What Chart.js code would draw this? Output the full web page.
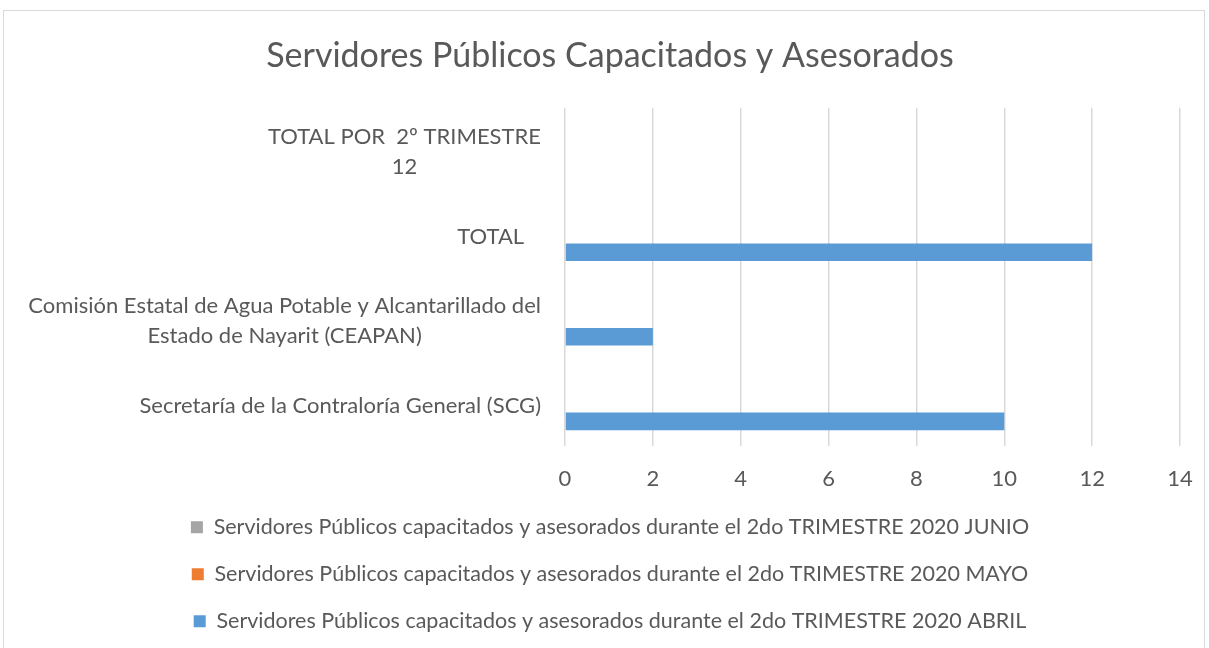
<!DOCTYPE html>
<html>
<head>
<meta charset="utf-8">
<script src="https://cdn.jsdelivr.net/npm/chart.js@4"></script>
<style>
  html, body { margin: 0; padding: 0; background: #fff; }
  #wrap { position: relative; width: 1209px; height: 648px; overflow: hidden; }
  #frame { position: absolute; left: 3px; top: 10px; width: 1202px; height: 700px; border: 1px solid #d9d9d9; box-sizing: border-box; }
  canvas { position: absolute; left: 0; top: 0; }
</style>
</head>
<body>
<div id="wrap">
  <div id="frame"></div>
  <canvas id="chart" width="1209" height="648"></canvas>
</div>
<script>
// categories, top to bottom
const categories = [
  ["TOTAL POR  2º TRIMESTRE", "12"],
  ["TOTAL   "],
  ["Comisión Estatal de Agua Potable y Alcantarillado del", "Estado de Nayarit (CEAPAN)"],
  ["Secretaría de la Contraloría General (SCG)"]
];
const seriesNames = [
  "Servidores Públicos capacitados y asesorados durante el 2do TRIMESTRE 2020 JUNIO",
  "Servidores Públicos capacitados y asesorados durante el 2do TRIMESTRE 2020 MAYO",
  "Servidores Públicos capacitados y asesorados durante el 2do TRIMESTRE 2020 ABRIL"
];
const junio = [null, null, null, null];
const mayo = [null, null, null, null];
const abril = [null, 12, 2, 10];
const xTicks = [0, 2, 4, 6, 8, 10, 12, 14];

const FONT = "Lato, 'Open Sans', sans-serif";
const TEXT = "#595959";

// y labels: lines centered inside a right-aligned block, like Excel does
const yLabels = {
  id: "yLabels",
  afterDraw(chart) {
    const scale = chart.scales.y;
    const ctx = chart.ctx;
    const right = chart.chartArea.left - 24;
    const lineH = 30;
    ctx.save();
    ctx.font = "22px " + FONT;
    ctx.fillStyle = TEXT;
    ctx.textAlign = "center";
    ctx.textBaseline = "middle";
    categories.forEach((lines, i) => {
      const y = scale.getPixelForTick(i) + 2;
      const w = Math.max(...lines.map(l => ctx.measureText(l).width));
      const cx = right - w / 2;
      lines.forEach((l, j) => {
        ctx.fillText(l, cx, y + (j - (lines.length - 1) / 2) * lineH);
      });
    });
    ctx.restore();
  }
};

new Chart(document.getElementById("chart"), {
  type: "bar",
  data: {
    labels: categories,
    datasets: [
      { label: seriesNames[0], data: junio, backgroundColor: "#A5A5A5" },
      { label: seriesNames[1], data: mayo, backgroundColor: "#ED7D31" },
      { label: seriesNames[2], data: abril, backgroundColor: "#5B9BD5" }
    ]
  },
  options: {
    indexAxis: "y",
    responsive: false,
    animation: false,
    devicePixelRatio: 1,
    categoryPercentage: 0.625,
    barPercentage: 1,
    layout: { padding: { left: 40, right: 29, top: 10, bottom: 6 } },
    plugins: {
      title: {
        display: true,
        text: "Servidores Públicos Capacitados y Asesorados",
        color: TEXT,
        font: { family: FONT, size: 34, weight: "normal" },
        padding: { top: 26, bottom: 31 }
      },
      legend: {
        position: "bottom",
        labels: {
          color: TEXT,
          font: { family: FONT, size: 21.5 },
          boxWidth: 12,
          boxHeight: 12,
          padding: 25.5
        }
      },
      tooltip: { enabled: false }
    },
    scales: {
      x: {
        min: 0,
        max: 14,
        afterBuildTicks: (scale) => { scale.ticks = xTicks.map(v => ({ value: v })); },
        afterFit: (scale) => {
          scale.height = 45;
          scale.paddingLeft = 0;
          scale.paddingRight = 0;
        },
        ticks: { color: TEXT, font: { family: FONT, size: 22 }, padding: 20 },
        grid: { color: "#d9d9d9", lineWidth: 1.5, drawTicks: false },
        border: { display: false }
      },
      y: {
        afterFit: (scale) => { scale.width = 565 - 40; },
        ticks: { display: false },
        grid: { display: false },
        border: { display: false }
      }
    }
  },
  plugins: [yLabels]
});
</script>
</body>
</html>
